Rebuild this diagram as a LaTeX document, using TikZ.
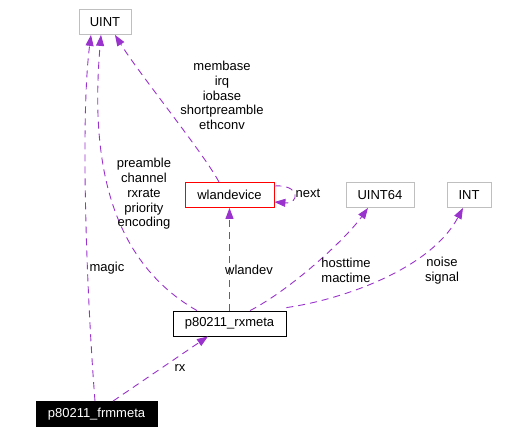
\documentclass[tikz,border=0pt]{standalone}
\usepackage{fontspec}
\setmainfont{Liberation Sans}
\usepackage{tikz}
\usetikzlibrary{arrows.meta}
\definecolor{edgecol}{HTML}{9A32CD}
\definecolor{boxgray}{HTML}{BFBFBF}

\begin{document}
\begin{tikzpicture}[x=1pt,y=-1pt,
    every node/.style={font=\fontsize{13}{14.7}\selectfont},
    cls/.style={draw=boxgray,line width=0.8pt,inner sep=0pt,minimum height=25pt},
    use/.style={draw=edgecol,line width=0.9pt,dash pattern=on 7pt off 5pt,
      -{Triangle[length=11pt,width=8pt]}},
    lbl/.style={align=center,inner sep=0pt}]
			\useasboundingbox (0,0) rectangle (512,434);
			\node[cls,minimum width=52pt] (ui) at (105,22) {UINT};
			\node[cls,draw=red,minimum width=89pt] (wd) at (229.5,195) {wlandevice};
			\node[cls,minimum width=68pt] (u64) at (380,195) {UINT64};
			\node[cls,minimum width=44pt] (in) at (469,195) {INT};
			\node[cls,draw=black,minimum width=113pt] (rx) at (229.5,323.5) {p80211\_rxmeta};
			\node[cls,draw=black,fill=black,text=white,minimum width=121pt] (frm) at (96.5,414) {p80211\_frmmeta};
			% usage edges
			\draw[use] ([xshift=-1.5pt]frm.north) .. controls (87,300) and (80,120) .. ([xshift=-14pt]ui.south);
			\draw[use] ([xshift=-32.5pt]rx.north) .. controls (100,255) and (92,140) .. ([xshift=-4pt]ui.south);
			\draw[use] ([xshift=-10.5pt]wd.north) .. controls (205,155) and (140,75) .. ([xshift=10pt]ui.south);
			\draw[use] ([yshift=9pt]wd.east) .. controls (300,184) and (300,204) .. ([yshift=-7pt]wd.east);
			\draw[use] (rx.north) -- (wd.south);
			\draw[use] ([xshift=20.5pt]rx.north) .. controls (290,290) and (345,240) .. ([xshift=-12pt]u64.south);
			\draw[use] ([yshift=3pt]rx.north east) .. controls (340,300) and (430,270) .. ([xshift=-6pt]in.south);
			\draw[use] ([xshift=16.5pt]frm.north) -- ([xshift=-21.5pt]rx.south);
			% labels
			\node[lbl] (lmb) at (222,95.5) {membase\\irq\\iobase\\shortpreamble\\ethconv};
			\node[lbl] (lpr) at (144,194) {preamble\\channel\\rxrate\\priority\\encoding};
			\node[lbl] (lmg) at (107,268) {magic};
			\node[lbl] (lnx) at (308,193) {next};
			\node[lbl] (lwd) at (249,270) {wlandev};
			\node[lbl] (lht) at (346,270.5) {hosttime\\mactime};
			\node[lbl] (lns) at (442,270.5) {noise\\signal};
			\node[lbl] (lrx) at (180,368) {rx};
		\end{tikzpicture}
\end{document}
